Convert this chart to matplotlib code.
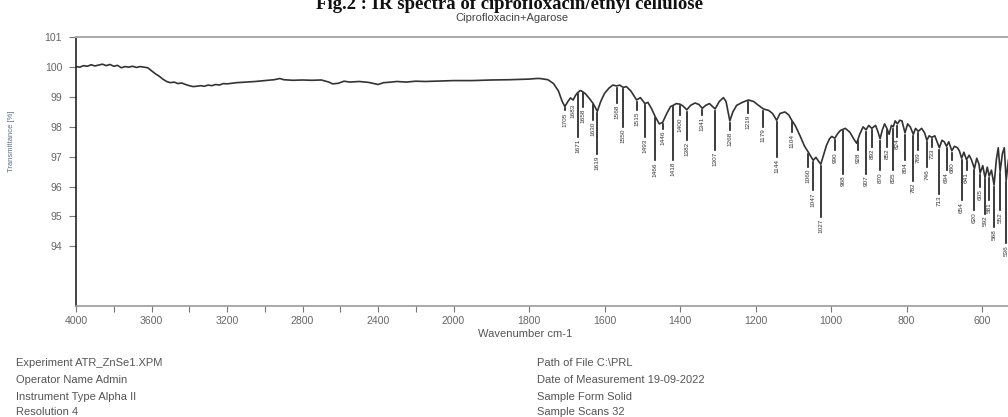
import numpy as np
import matplotlib
matplotlib.use("Agg")
import matplotlib.pyplot as plt

# ---- spectrum (wavenumber in cm-1, transmittance in %) ----
wavenumber = [
    4000, 3980, 3960, 3940, 3920, 3900, 3880, 3860, 3840, 3820, 3800, 3780, 3760,
    3740, 3720, 3700, 3680, 3660, 3640, 3620, 3600, 3580, 3560, 3540, 3520, 3500,
    3480, 3460, 3440, 3420, 3400, 3380, 3360, 3340, 3320, 3300, 3280, 3260, 3240,
    3220, 3200, 3150, 3100, 3050, 3000, 2950, 2920, 2900, 2850, 2800, 2750, 2700,
    2660, 2640, 2610, 2580, 2550, 2500, 2450, 2400, 2370, 2330, 2300, 2250, 2200,
    2150, 2100, 2050, 2000, 1950, 1900, 1850, 1800, 1780, 1771,
    1750, 1735, 1722, 1712, 1705, 1697, 1690, 1683, 1677, 1671, 1664, 1658, 1650,
    1640, 1630, 1619, 1610, 1600, 1588, 1578, 1568, 1560, 1550, 1542, 1530, 1515,
    1505, 1493, 1485, 1475, 1466, 1455, 1446, 1435, 1425, 1418, 1410, 1400, 1392,
    1382, 1372, 1360, 1350, 1341, 1332, 1322, 1307, 1296, 1285, 1278, 1268, 1260,
    1250, 1235, 1219, 1205, 1192, 1179, 1165, 1155, 1144, 1135, 1122, 1112, 1104,
    1095, 1082, 1070, 1060, 1053, 1047, 1040, 1033, 1027, 1020, 1012, 1004, 998,
    990, 982, 975, 962, 950, 940, 932, 924, 915, 907, 900, 892, 882, 876, 870, 864,
    858, 852, 846, 840, 835, 830, 824, 818, 812, 804, 797, 790, 782, 776, 769, 760,
    752, 746, 740, 733, 725, 719, 713, 706, 700, 694, 688, 680, 673, 665, 660, 654,
    648, 641, 634, 628, 620, 614, 608, 605, 598, 592, 586, 581, 575, 568, 562, 557,
    552, 546, 541, 536, 530, 520, 500, 480, 450, 420, 400,
]
transmittance = [
    100.02, 100.00, 100.05, 100.03, 100.08, 100.04, 100.07, 100.10, 100.05, 100.09,
    100.03, 100.06, 99.98, 100.02, 100.00, 100.03, 99.99, 100.02, 100.00, 99.98,
    99.88, 99.78, 99.70, 99.60, 99.52, 99.48, 99.50, 99.45, 99.47, 99.42, 99.38,
    99.35, 99.36, 99.38, 99.36, 99.40, 99.38, 99.42, 99.40, 99.45, 99.44, 99.48,
    99.50, 99.52, 99.55, 99.58, 99.62, 99.58, 99.56, 99.57, 99.56, 99.57, 99.50,
    99.44, 99.46, 99.53, 99.50, 99.52, 99.49, 99.42, 99.48, 99.50, 99.52, 99.50,
    99.53, 99.52, 99.53, 99.54, 99.55, 99.55, 99.57, 99.58, 99.60, 99.62, 99.62,
    99.58, 99.45, 99.20, 98.85, 98.68, 98.85, 98.97, 98.90, 99.05, 99.15, 99.22,
    99.18, 99.10, 98.95, 98.78, 98.52, 98.85, 99.12, 99.30, 99.40, 99.37, 99.40,
    99.32, 99.35, 99.20, 98.90, 98.98, 98.78, 98.82, 98.60, 98.35, 98.10, 98.15,
    98.45, 98.68, 98.72, 98.78, 98.76, 98.70, 98.57, 98.72, 98.80, 98.75, 98.62,
    98.72, 98.78, 98.60, 98.85, 98.98, 98.85, 98.20, 98.50, 98.72, 98.82, 98.90,
    98.85, 98.72, 98.60, 98.55, 98.45, 98.22, 98.45, 98.50, 98.40, 98.22, 98.05,
    97.70, 97.35, 97.15, 97.00, 96.88, 96.98, 96.85, 96.75, 97.05, 97.38, 97.60,
    97.68, 97.62, 97.78, 97.88, 97.95, 97.82, 97.60, 97.45, 97.75, 98.00, 97.90,
    98.05, 97.95, 98.05, 97.85, 97.60, 97.90, 98.10, 97.95, 97.75, 98.05, 98.00,
    98.20, 98.10, 98.22, 98.20, 97.80, 98.10, 98.00, 97.75, 97.95, 97.85, 97.95,
    97.80, 97.55, 97.70, 97.65, 97.70, 97.50, 97.30, 97.55, 97.50, 97.35, 97.50,
    97.20, 97.35, 97.30, 97.20, 96.95, 97.15, 96.90, 97.05, 96.90, 96.60, 96.95,
    96.75, 96.45, 96.70, 96.30, 96.65, 96.35, 96.55, 96.05, 96.90, 97.30, 96.50,
    97.10, 97.30, 96.20, 96.90, 97.00, 96.80, 96.90, 96.80, 96.90, 96.80,
]

# ---- picked peaks and the level where each label sits ----
peak_wn = [1705, 1683, 1671, 1658, 1630, 1619, 1568, 1550, 1515, 1493, 1466, 1446,
           1418, 1400, 1382, 1341, 1307, 1268, 1219, 1179, 1144, 1104, 1060, 1047,
           1027, 990, 968, 928, 907, 892, 870, 852, 835, 824, 804, 782, 769, 746,
           733, 713, 694, 680, 654, 641, 620, 605, 592, 581, 568, 552, 536]
peak_label_level = [98.55, 98.84, 97.66, 98.67, 98.22, 97.10, 98.80, 98.00, 98.56,
                    97.66, 96.88, 97.94, 96.88, 98.39, 97.55, 98.39, 97.21, 97.89,
                    98.45, 98.00, 96.99, 97.83, 96.65, 95.87, 94.97, 97.21, 96.43,
                    97.21, 96.43, 97.33, 96.54, 97.33, 96.54, 97.66, 96.88, 96.20,
                    97.21, 96.65, 97.33, 95.76, 96.54, 96.88, 95.54, 96.54, 95.20,
                    95.98, 95.09, 95.54, 94.64, 95.20, 94.10]

major_ticks = [4000, 3600, 3200, 2800, 2400, 2000, 1800, 1600, 1400, 1200, 1000, 800, 600]
minor_ticks = [3800, 3400, 3000, 2600, 2200]
y_ticks = [94, 95, 96, 97, 98, 99, 100, 101]

info_left = ["Experiment ATR_ZnSe1.XPM", "Operator Name Admin",
             "Instrument Type Alpha II", "Resolution 4"]
info_right = ["Path of File C:\\PRL", "Date of Measurement 19-09-2022",
              "Sample Form Solid", "Sample Scans 32"]


def fwd(w):
    # wavenumbers above 2000 cm-1 are drawn at half scale
    w = np.asarray(w, dtype=float)
    return np.where(w <= 2000, w, 2000 + (w - 2000) / 2.0)


def inv(u):
    u = np.asarray(u, dtype=float)
    return np.where(u <= 2000, u, 2000 + (u - 2000) * 2.0)


W, H = 1008, 417
fig = plt.figure(figsize=(W / 100, H / 100), dpi=100)
plt.rcParams['font.family'] = ['Liberation Sans', 'DejaVu Sans']

left_px, right_px, top_px, bottom_px = 76, 1057.5, 37.3, 306
ax = fig.add_axes([left_px / W, 1 - bottom_px / H,
                   (right_px - left_px) / W, (bottom_px - top_px) / H])
ax.set_xscale('function', functions=(fwd, inv))
ax.set_xlim(4000, 400)
ax.set_ylim(92, 101)

ax.plot(wavenumber, transmittance, color='#333333', lw=1.2, zorder=3)

# peak markers with rotated wavenumber labels
wn_r = np.array(wavenumber[::-1], dtype=float)
tr_r = np.array(transmittance[::-1], dtype=float)
for wn, lvl in zip(peak_wn, peak_label_level):
    top = np.interp(wn, wn_r, tr_r) - 0.06
    ax.plot([wn, wn], [top, lvl], color='#1a1a1a', lw=1.2, zorder=2)
    ax.text(wn, lvl - 0.06, str(wn), rotation=90, ha='center', va='top',
            fontsize=4.6, color='#333333', zorder=4)

ax.set_xticks(major_ticks)
ax.set_xticklabels([str(t) for t in major_ticks])
ax.set_xticks(minor_ticks, minor=True)
ax.set_yticks(y_ticks)
ax.set_yticklabels([str(t) for t in y_ticks])
ax.tick_params(axis='both', which='both', direction='out', colors='#777777',
               labelcolor='#666666', labelsize=7.6, length=4, width=0.8)
ax.tick_params(axis='y', length=5, pad=5)

ax.spines['left'].set_color('#111111')
ax.spines['left'].set_linewidth(1.1)
ax.spines['bottom'].set_color('#999999')
ax.spines['bottom'].set_linewidth(1.2)
ax.spines['top'].set_color('#aaaaaa')
ax.spines['top'].set_linewidth(1.4)
ax.spines['right'].set_visible(False)

ax.set_xlabel('Wavenumber cm-1', fontsize=8, color='#555555')
ax.xaxis.set_label_coords((525 - left_px) / (right_px - left_px), -0.085)
ax.set_ylabel('Transmittance [%]', fontsize=5.5, color='#5b6c84')
ax.yaxis.set_label_coords(-(left_px - 15) / (right_px - left_px),
                          (bottom_px - 141) / (bottom_px - top_px))

fig.text(512 / W, 1 - 18 / H, 'Ciprofloxacin+Agarose', ha='center', va='center',
         fontsize=8, color='#444444')
fig.text(510 / W, 1 - 9 / H, 'Fig.2 : IR spectra of ciprofloxacin/ethyl cellulose',
         ha='center', va='baseline', fontsize=13.5, fontweight='bold',
         family=['Liberation Serif', 'DejaVu Serif'], color='#111111')

rows = [363, 380, 397, 412]
for txt, y in zip(info_left, rows):
    fig.text(16 / W, 1 - y / H, txt, ha='left', va='center', fontsize=8, color='#555555')
for txt, y in zip(info_right, rows):
    fig.text(537 / W, 1 - y / H, txt, ha='left', va='center', fontsize=8, color='#555555')

fig.savefig('out.png', dpi=100)
